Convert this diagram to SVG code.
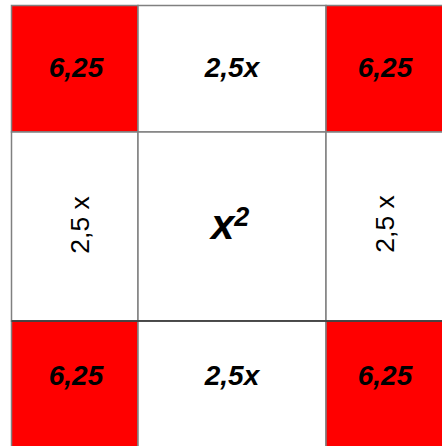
<svg xmlns="http://www.w3.org/2000/svg" width="442" height="446" viewBox="0 0 442 446">
<style>
.cell{stroke:#808080;stroke-width:1.5}
.red{fill:#ff0000}
.white{fill:#ffffff}
.b{font-family:"Liberation Sans",Arial,sans-serif;font-weight:bold;font-style:italic;font-size:28px;fill:#000;text-anchor:middle}
.r{font-family:"Liberation Sans",Arial,sans-serif;font-size:26.5px;fill:#000;text-anchor:middle}
</style>
<rect width="442" height="446" fill="#ffffff"/>
<g id="c11"><rect class="cell red" x="11.5" y="5.5" width="126.5" height="126.5"/><text class="b" x="76" y="77">6,25</text></g>
<g id="c12"><rect class="cell white" x="138" y="5.5" width="188" height="126.5"/><text class="b" x="232" y="77">2,5x</text></g>
<g id="c13"><rect class="cell red" x="326" y="5.5" width="126.5" height="126.5"/><text class="b" x="385" y="77">6,25</text></g>
<g id="c21"><rect class="cell white" x="11.5" y="132" width="126.5" height="189"/><text class="r" transform="translate(89,225) rotate(-90)">2,5 x</text></g>
<g id="c22"><rect class="cell white" x="138" y="132" width="188" height="189"/><text class="b" x="211" y="239" style="text-anchor:start;font-size:42px">x<tspan font-size="27" dy="-13">2</tspan></text></g>
<g id="c23"><rect class="cell white" x="326" y="132" width="126.5" height="189"/><text class="r" transform="translate(394,224) rotate(-90)">2,5 x</text></g>
<g id="c31"><rect class="cell red" x="11.5" y="321" width="126.5" height="126.5"/><text class="b" x="76" y="385">6,25</text></g>
<g id="c32"><rect class="cell white" x="138" y="321" width="188" height="126.5"/><text class="b" x="232" y="385">2,5x</text></g>
<g id="c33"><rect class="cell red" x="326" y="321" width="126.5" height="126.5"/><text class="b" x="385" y="385">6,25</text></g>
<g id="connectors"><line x1="11.5" y1="321" x2="442" y2="321" stroke="#333" stroke-width="1.5"/></g>
</svg>
